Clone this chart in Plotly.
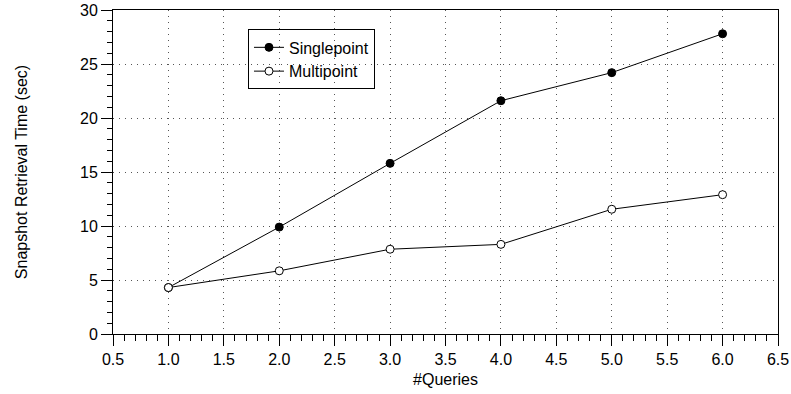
import plotly.graph_objects as go

# Snapshot retrieval time versus number of queries
queries = [1, 2, 3, 4, 5, 6]
singlepoint = [4.3, 9.9, 15.8, 21.6, 24.2, 27.8]
multipoint = [4.3, 5.85, 7.85, 8.3, 11.55, 12.9]

x_ticks = [0.5, 1.0, 1.5, 2.0, 2.5, 3.0, 3.5, 4.0, 4.5, 5.0, 5.5, 6.0, 6.5]
x_tick_labels = ["0.5", "1.0", "1.5", "2.0", "2.5", "3.0", "3.5", "4.0", "4.5", "5.0", "5.5", "6.0", "6.5"]
y_ticks = [0, 5, 10, 15, 20, 25, 30]

FONT = "Liberation Sans, Arial, Helvetica, sans-serif"

fig = go.Figure()
fig.add_trace(go.Scatter(
    x=queries, y=singlepoint, name="Singlepoint", mode="lines+markers",
    line=dict(color="black", width=1),
    marker=dict(symbol="circle", size=8, color="black", line=dict(color="black", width=1)),
))
fig.add_trace(go.Scatter(
    x=queries, y=multipoint, name="Multipoint", mode="lines+markers",
    line=dict(color="black", width=1),
    marker=dict(symbol="circle", size=8, color="white", line=dict(color="black", width=1)),
))

axis_common = dict(
    showline=True, linecolor="black", linewidth=1, mirror=True,
    ticks="outside", ticklen=11, tickwidth=1, tickcolor="black",
    showgrid=True, gridcolor="#555555", gridwidth=1, griddash="1px,5px",
    zeroline=False, automargin=False,
    tickfont=dict(family=FONT, size=16, color="black"),
)

fig.update_xaxes(
    range=[0.5, 6.5], tickvals=x_ticks, ticktext=x_tick_labels,
    title=dict(text="#Queries", font=dict(family=FONT, size=16, color="black"), standoff=6),
    minor=dict(dtick=0.1, tick0=0.5, ticks="outside", ticklen=6, tickcolor="black", showgrid=False),
    **axis_common,
)
fig.update_yaxes(
    range=[0, 30], tickvals=y_ticks,
    title=dict(text="Snapshot Retrieval Time (sec)", font=dict(family=FONT, size=16, color="black"), standoff=48),
    minor=dict(dtick=1, tick0=0, ticks="outside", ticklen=5, tickcolor="black", showgrid=False),
    **axis_common,
)

fig.update_layout(
    width=791, height=394,
    margin=dict(l=113, r=13, t=10, b=60),
    paper_bgcolor="white", plot_bgcolor="white",
    font=dict(family=FONT, color="black"),
    legend=dict(
        x=0.203, y=0.94, xanchor="left", yanchor="top",
        bgcolor="rgba(0,0,0,0)", bordercolor="black", borderwidth=1,
        font=dict(family=FONT, size=16, color="black"),
        tracegroupgap=0, itemwidth=30,
    ),
    showlegend=True,
)

fig.write_html("out.html")
